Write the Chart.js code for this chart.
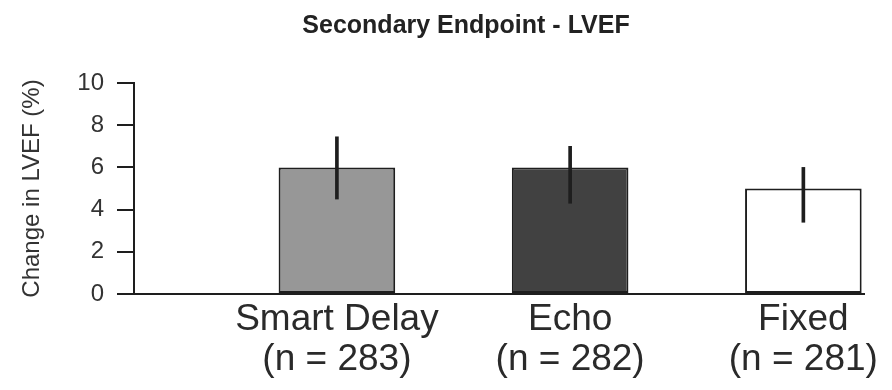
<!DOCTYPE html>
<html>
<head>
<meta charset="utf-8">
<script src="https://cdn.jsdelivr.net/npm/chart.js@4.4.1/dist/chart.umd.min.js"></script>
<style>
  html, body { margin: 0; padding: 0; background: #fff; }
  #wrap { width: 892px; height: 390px; }
</style>
</head>
<body>
<div id="wrap"><canvas id="lvef"></canvas></div>
<script>
// grupos de estimulacion y tamanos de muestra
const groups = ['Smart Delay', 'Echo', 'Fixed'];
const sampleSizes = [283, 282, 281];
// cambio medio de LVEF (%) y extremos de la barra de error
const lvefChange = [6.0, 6.0, 5.0];
const errLow = [4.5, 4.3, 3.4];
const errHigh = [7.45, 7.0, 6.0];

const fillColors = ['#979797', '#414141', '#ffffff'];
const ink = '#1e1e1e';

// posiciones 1..n sobre un eje x lineal
const xPos = groups.map((g, i) => i + 1);

const barData = xPos.map((x, i) => ({ x: x, y: lvefChange[i] }));
const errData = xPos.map((x, i) => ({ x: x, y: [errLow[i], errHigh[i]] }));

const ctx = document.getElementById('lvef').getContext('2d');
new Chart(ctx, {
  type: 'bar',
  data: {
    datasets: [
      {
        label: 'Error',
        data: errData,
        backgroundColor: ink,
        borderWidth: 0,
        barThickness: 3,
        grouped: false,
        order: 0
      },
      {
        label: 'Change in LVEF',
        data: barData,
        backgroundColor: fillColors,
        borderColor: ink,
        borderWidth: 2,
        borderSkipped: false,
        categoryPercentage: 0.5,
        barPercentage: 1.0,
        grouped: false,
        order: 1
      }
    ]
  },
  options: {
    responsive: true,
    maintainAspectRatio: false,
    animation: false,
    layout: {
      padding: { left: 68, right: 28, top: 0, bottom: 0 }
    },
    plugins: {
      legend: { display: false },
      tooltip: { enabled: false },
      title: {
        display: true,
        text: 'Secondary Endpoint - LVEF',
        color: '#222',
        font: { family: '"Liberation Sans", Arial, sans-serif', size: 25, weight: 'bold', lineHeight: 1.2 },
        padding: { top: 11, bottom: 42 }
      }
    },
    scales: {
      x: {
        type: 'linear',
        offset: false,
        min: 0.13,
        max: 3.26,
        afterBuildTicks: function(scale) {
          scale.ticks = xPos.map(v => ({ value: v }));
        },
        afterFit: function(scale) {
          scale.height = 96;
        },
        grid: { display: false, drawTicks: false },
        border: { display: true, color: ink, width: 2 },
        ticks: {
          autoSkip: false,
          maxRotation: 0,
          padding: 6,
          color: '#2a2a2a',
          font: { family: '"Liberation Sans", Arial, sans-serif', size: 37, lineHeight: 1.08 },
          callback: function(value) {
            const i = Math.round(value) - 1;
            return [groups[i], '(n = ' + sampleSizes[i] + ')'];
          }
        }
      },
      y: {
        min: 0,
        max: 10,
        afterFit: function(scale) {
          scale.width = 66;
        },
        grid: {
          drawOnChartArea: false,
          drawTicks: true,
          tickLength: 17,
          color: ink,
          lineWidth: 2
        },
        border: { display: true, color: ink, width: 2 },
        ticks: {
          stepSize: 2,
          padding: 13,
          color: '#333',
          font: { family: '"Liberation Sans", Arial, sans-serif', size: 24 }
        },
        title: {
          display: true,
          text: 'Change in LVEF (%)',
          color: '#333',
          font: { family: '"Liberation Sans", Arial, sans-serif', size: 24, lineHeight: 1.2 },
          padding: { top: -50, bottom: 0 }
        }
      }
    }
  }
});
</script>
</body>
</html>
